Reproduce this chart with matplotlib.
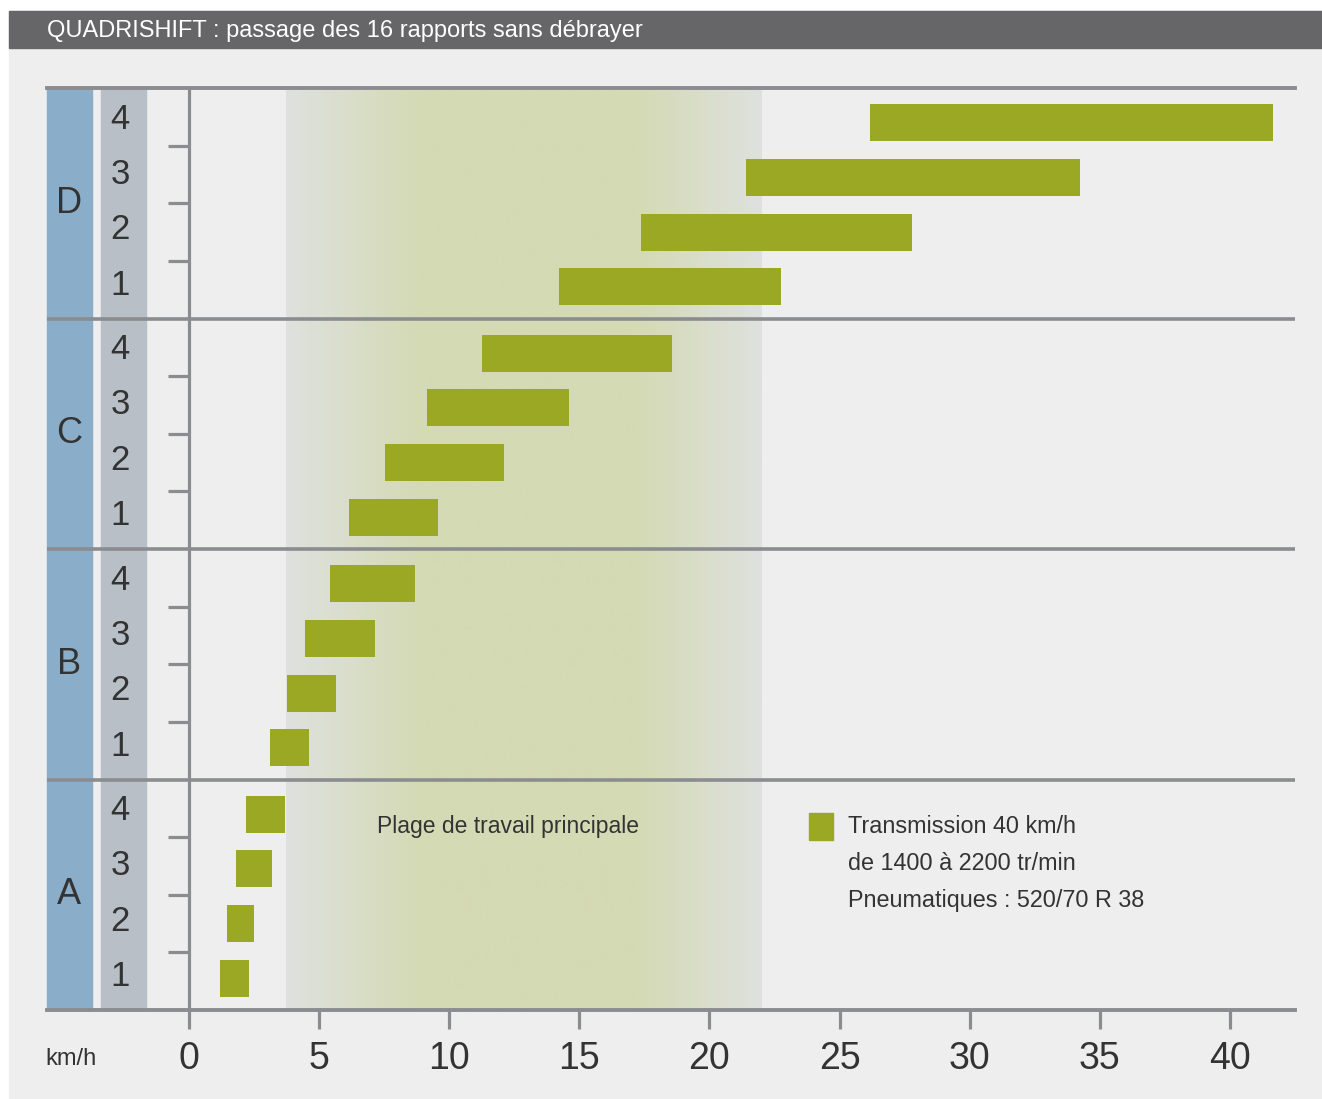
import matplotlib.pyplot as plt
import numpy as np
from matplotlib.patches import Rectangle

# vitesses (km/h) debut / fin pour chaque rapport, gammes A..D, rapports 1..4
gammes = ["A", "B", "C", "D"]
rapports = ["1", "2", "3", "4"]
debut = [
    [1.2, 1.45, 1.8, 2.2],
    [3.1, 3.75, 4.45, 5.4],
    [6.15, 7.55, 9.15, 11.25],
    [14.2, 17.35, 21.4, 26.15],
]
fin = [
    [2.3, 2.5, 3.2, 3.7],
    [4.6, 5.65, 7.15, 8.7],
    [9.55, 12.1, 14.6, 18.55],
    [22.75, 27.8, 34.25, 41.65],
]
plage = [3.73, 22.0]
xticks = [0, 5, 10, 15, 20, 25, 30, 35, 40]

W, H = 1322, 1099
plt.rcParams["font.family"] = ["Liberation Sans", "DejaVu Sans"]

olive = "#9ba823"
gris = "#8b8c8f"
texte = "#333333"

fig = plt.figure(figsize=(W / 100, H / 100), dpi=100, facecolor="white")

# fond et bandeau
fig.patches.append(Rectangle((9 / W, 0), 1 - 9 / W, 1 - 11 / H, transform=fig.transFigure,
                             color="#eeeeee", zorder=-10))
fig.patches.append(Rectangle((9 / W, 1 - 48 / H), 1 - 9 / W, 37 / H, transform=fig.transFigure,
                             color="#666668", zorder=-9))
fig.text(47 / W, 1 - 31 / H, "QUADRISHIFT : passage des 16 rapports sans débrayer",
         color="white", fontsize=17, va="center", ha="left")

ax = fig.add_axes([47 / W, 1 - 1010 / H, (1295 - 47) / W, (1010 - 88) / H])
ax.set_facecolor("none")
ax.set_xlim(-5.456, 42.5)
ax.set_ylim(0, 16)

# plage de travail (degrade)
xs = np.linspace(plage[0], plage[1], 400)
bord = np.array([0xdf, 0xe1, 0xde]) / 255
vert = np.array([0xd4, 0xda, 0xb4]) / 255
pos = [plage[0], 8.9, 17.2, plage[1]]
img = np.stack([np.interp(xs, pos, [bord[c], vert[c], vert[c], bord[c]]) for c in range(3)], axis=-1)
ax.imshow(img[np.newaxis, :, :], extent=[plage[0], plage[1], 0, 16], aspect="auto", zorder=1)

# colonnes gammes / rapports
ax.add_patch(Rectangle((-5.456, 0), 1.726, 16, color="#8aaec9", zorder=2, clip_on=False))
ax.add_patch(Rectangle((-3.381, 0), 1.729, 16, color="#b8bfc6", zorder=2, clip_on=False))

for g, gamme in enumerate(gammes):
    ax.text(-4.61, g * 4 + 2, gamme, fontsize=26, color=texte, ha="center", va="center", zorder=5)
    for k, r in enumerate(rapports):
        ax.text(-2.65, g * 4 + 0.58 + k * 0.96, r, fontsize=25, color=texte,
                ha="center", va="center", zorder=5)
    ax.barh([g * 4 + 0.55 + k * 0.95 for k in range(4)],
            [fin[g][k] - debut[g][k] for k in range(4)],
            left=debut[g], height=0.64, color=olive, zorder=3)

# lignes
for y in [4, 8, 12]:
    ax.axhline(y, color=gris, lw=2.6, zorder=4)
ax.axvline(0, color=gris, lw=2.3, zorder=4)
petits = [y for y in range(1, 16) if y % 4 != 0]
ax.hlines(petits, -0.81, 0, color=gris, lw=2.3, zorder=4)

for s in ["left", "right"]:
    ax.spines[s].set_visible(False)
for s in ["top", "bottom"]:
    ax.spines[s].set_color(gris)
    ax.spines[s].set_linewidth(2.8)
    ax.spines[s].set_zorder(6)

ax.set_yticks([])
ax.set_xticks(xticks)
ax.set_xticklabels([str(v) for v in xticks])
ax.tick_params(axis="x", length=13.5, width=2.3, color=gris, pad=9, labelsize=27, labelcolor=texte)

ax.text(12.26, 3.18, "Plage de travail principale", fontsize=16.5, color=texte,
        ha="center", va="center", zorder=5)

# legende
ax.add_patch(Rectangle((23.82, 2.95), 0.93, 0.47, color=olive, zorder=5))
lignes = ["Transmission 40 km/h", "de 1400 à 2200 tr/min", "Pneumatiques : 520/70 R 38"]
for i, t in enumerate(lignes):
    ax.text(25.32, 3.19 - i * 0.645, t, fontsize=16.8, color=texte, ha="left", va="center", zorder=5)

fig.text(71 / W, 1 - 1059 / H, "km/h", fontsize=17, color=texte, ha="center", va="center")

fig.savefig("out.png", dpi=100, facecolor="white")
